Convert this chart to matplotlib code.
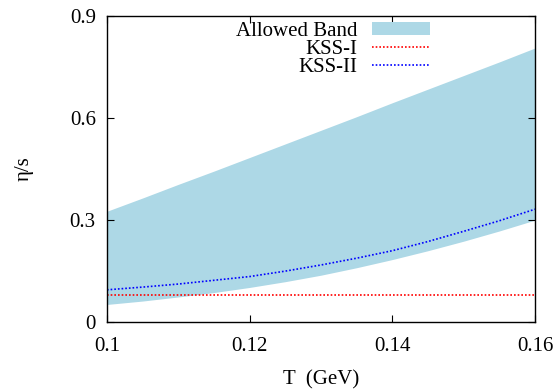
import numpy as np
import matplotlib
matplotlib.use('Agg')
import matplotlib.pyplot as plt

plt.rcParams['font.family'] = ['Liberation Serif', 'DejaVu Serif']
plt.rcParams['font.size'] = 15

# values
T = [0.100, 0.105, 0.110, 0.115, 0.120, 0.125, 0.130, 0.135, 0.140, 0.145, 0.150, 0.155, 0.160]
band_hi = [0.326, 0.365, 0.405, 0.444, 0.484, 0.524, 0.564, 0.604, 0.645, 0.685, 0.725, 0.765, 0.806]
band_lo = [0.052, 0.062, 0.074, 0.087, 0.102, 0.119, 0.138, 0.160, 0.184, 0.210, 0.238, 0.268, 0.300]
kss1 = 1.0 / (4 * np.pi)
kss2 = [0.095, 0.103, 0.112, 0.123, 0.134, 0.150, 0.168, 0.188, 0.210, 0.237, 0.267, 0.298, 0.332]

fig = plt.figure(figsize=(5.57, 3.9), dpi=100)
ax = fig.add_axes([0.192, 0.174, 0.7685, 0.785])

ax.fill_between(T, band_lo, band_hi, color='#add8e6', lw=0, label='Allowed Band')
ax.plot([T[0], T[-1]], [kss1, kss1], color='red', lw=1.2, ls=(0, (1, 1.2)), label='KSS-I')
ax.plot(T, kss2, color='blue', lw=1.2, ls=(0, (1, 1.2)), label='KSS-II')

ax.set_xlim(0.1, 0.16)
ax.set_ylim(0, 0.9)
ax.set_xticks([0.1, 0.12, 0.14, 0.16])
ax.set_xticklabels(['0.1', '0.12', '0.14', '0.16'])
ax.set_yticks([0, 0.3, 0.6, 0.9])
ax.set_yticklabels(['0', '0.3', '0.6', '0.9'])
ax.tick_params(direction='in', top=True, right=True, length=5, pad=8)
ax.tick_params(axis='x', pad=11)
for s in ax.spines.values():
    s.set_linewidth(1.0)

ax.set_xlabel('T  (GeV)', labelpad=10)
ax.set_ylabel('η/s', labelpad=26)

ax.legend(loc='upper right', bbox_to_anchor=(0.755, 0.98), frameon=False, markerfirst=False,
          handlelength=2.8, handleheight=0.55, handletextpad=0.7, labelspacing=-0.05,
          borderpad=0, borderaxespad=0)

fig.savefig('out.png', dpi=100)
